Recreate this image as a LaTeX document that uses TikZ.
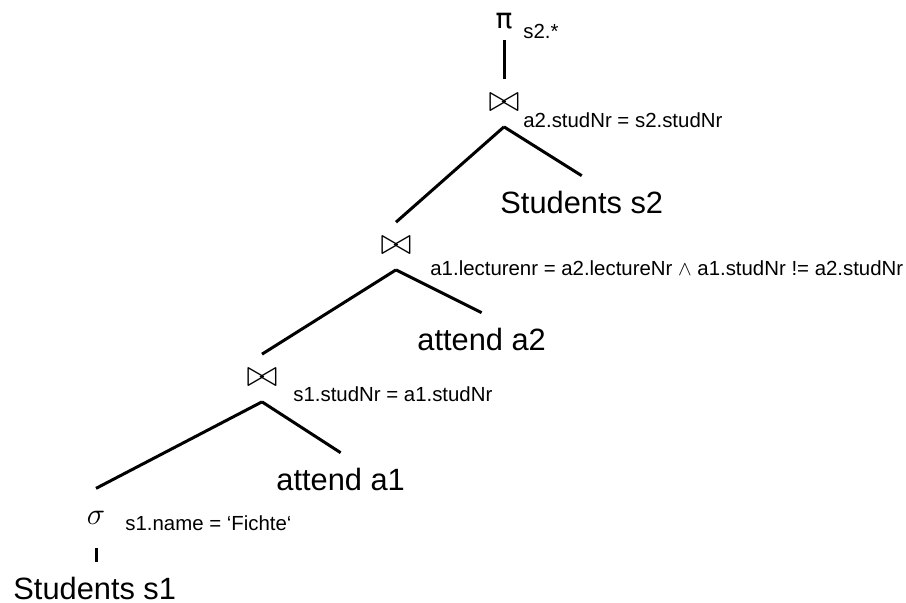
\RequirePackage{fix-cm}
\documentclass[tikz,border=0pt]{standalone}
\usepackage{fontspec}
\setmainfont{Liberation Sans}
\newfontfamily\greekfont{DejaVu Sans}
\usepackage{tikz}

\begin{document}
\begin{tikzpicture}[
  x=0.5pt, y=-0.5pt,
  rel/.style={anchor=base west, inner sep=0pt, outer ysep=7.5pt, font=\fontsize{15.4}{18}\selectfont},
  cond/.style={anchor=base west, inner sep=0pt, font=\fontsize{10.2}{12}\selectfont},
  op/.style={inner sep=0pt, outer ysep=7.5pt, font=\fontsize{19}{22}\selectfont},
  edge/.style={line width=1.5pt},
]
\useasboundingbox (0,0) rectangle (906,602);

% ── projection ───────────────────────────────────────────────────────
\node[op, outer ysep=5.5pt, font=\greekfont\fontsize{14}{16}\selectfont] (proj) at (504,21) {π};
\node[cond] (projc) at (523,38) {s2.*};

% ── join with Students s2 ────────────────────────────────────────────
\node[op] (j1) at (504,103) {$\bowtie$};
\node[cond] (j1c) at (523,127) {a2.studNr = s2.studNr};
\node[rel] (s2) at (500,213) {Students s2};

% ── join with attend a2 ──────────────────────────────────────────────
\node[op] (j2) at (396,246) {$\bowtie$};
\node[cond] (j2c) at (430,275)
  {a1.lecturenr = a2.lectureNr $\wedge$ a1.studNr != a2.studNr};
\node[rel] (a2) at (417,350) {attend a2};

% ── join with attend a1 ──────────────────────────────────────────────
\node[op] (j3) at (262,378) {$\bowtie$};
\node[cond] (j3c) at (293,401) {s1.studNr = a1.studNr};
\node[rel] (a1) at (276,490) {attend a1};

% ── selection on Students s1 ─────────────────────────────────────────
\node[op, outer ysep=11.5pt, font=\fontsize{15.4}{18}\selectfont] (sel) at (96,518) {$\sigma$};
\node[cond] (selc) at (125,530) {s1.name = ‘Fichte‘};
\node[rel, outer ysep=0pt] (s1) at (13,599) {Students s1};

% edges
\draw[edge] (proj.south) -- (j1.north);
\draw[edge] (j1.south) -- (j2.north); \draw[edge] (j1.south) -- (s2.north);
\draw[edge] (j2.south) -- (j3.north); \draw[edge] (j2.south) -- (a2.north);
\draw[edge] (j3.south) -- (sel.north); \draw[edge] (j3.south) -- (a1.north);
\draw[edge] (sel.south) -- ([yshift=7.5pt]sel.south |- s1.north);

\end{tikzpicture}
\end{document}
